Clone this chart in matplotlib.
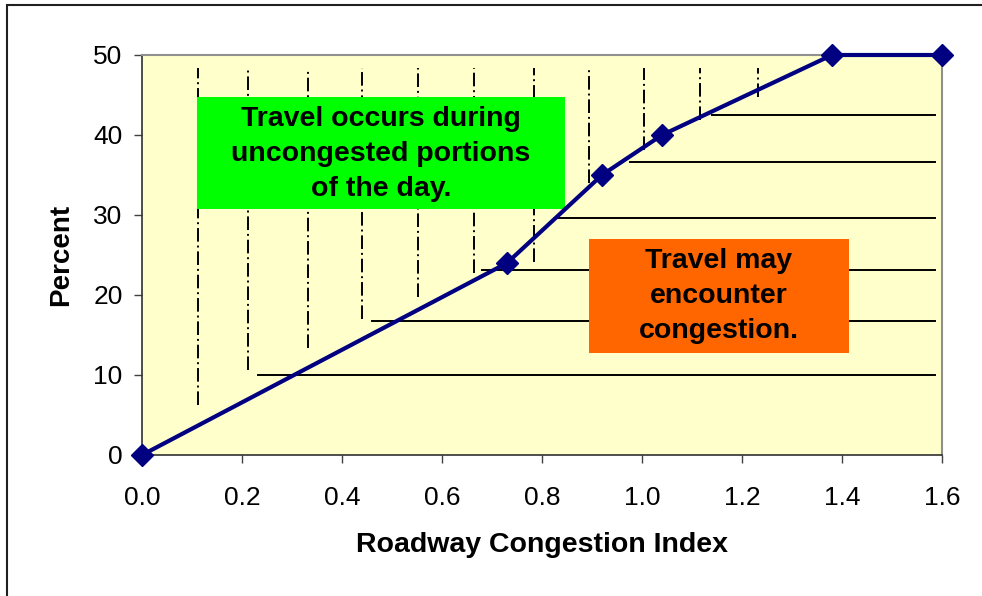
import matplotlib
matplotlib.use("Agg")
import matplotlib.pyplot as plt
from matplotlib.patches import Rectangle

# data
rci = [0.0, 0.73, 0.92, 1.04, 1.38, 1.60]
percent = [0, 24, 35, 40, 50, 50]

# horizontal reference lines (y, x start, x end)
h_y = [10.0, 16.75, 23.1, 29.6, 36.6, 42.5]
h_x0 = [0.232, 0.46, 0.68, 0.826, 0.976, 1.14]
h_x1 = [1.586, 1.586, 1.586, 1.586, 1.586, 1.586]

# vertical dash-dot lines (x, y bottom, y top)
v_x = [0.112, 0.212, 0.332, 0.44, 0.552, 0.664, 0.784, 0.894, 1.004, 1.116, 1.232]
v_y0 = [6.25, 10.6, 13.4, 17.0, 19.75, 22.75, 24.1, 34.0, 38.1, 41.9, 44.75]
v_y1 = [48.4] * 11

x_ticks = [0.0, 0.2, 0.4, 0.6, 0.8, 1.0, 1.2, 1.4, 1.6]
y_ticks = [0, 10, 20, 30, 40, 50]

green_text = "Travel occurs during\nuncongested portions\nof the day."
orange_text = "Travel may\nencounter\ncongestion."

plt.rcParams['font.family'] = ['Liberation Sans', 'DejaVu Sans']

fig = plt.figure(figsize=(9.82, 5.96), dpi=100)
ax = fig.add_axes([142/982, 1 - 455/596, 800/982, 400/596])
ax.set_facecolor('#FFFFCC')

# outer frame (only left and top visible in the reference)
fig.patches.append(Rectangle((7/982, -0.1), 1.2, 1 - 5/596 + 0.1, transform=fig.transFigure,
                             fill=False, edgecolor='#202020', linewidth=1.5, zorder=0))

for x, y0, y1 in zip(v_x, v_y0, v_y1):
    ax.plot([x, x], [y0, y1], color='black', linewidth=1.4,
            linestyle=(0, (7, 2, 1, 2)), zorder=2)

for y, x0, x1 in zip(h_y, h_x0, h_x1):
    ax.plot([x0, x1], [y, y], color='black', linewidth=1.4, zorder=2)

# annotation boxes
ax.add_patch(Rectangle((0.11, 30.75), 0.736, 14.0, facecolor='#00FF00', edgecolor='none', zorder=3))
ax.text(0.478, 37.6, green_text, ha='center', va='center', fontsize=20.5, fontweight='bold',
        linespacing=1.45, zorder=4)
ax.add_patch(Rectangle((0.894, 12.75), 0.52, 14.25, facecolor='#FF6600', edgecolor='none', zorder=3))
ax.text(1.154, 19.9, orange_text, ha='center', va='center', fontsize=20.5, fontweight='bold',
        linespacing=1.45, zorder=4)

ax.plot(rci, percent, color='#000080', linewidth=3, marker='D', markersize=11,
        clip_on=False, zorder=5)

ax.set_xlim(0, 1.6)
ax.set_ylim(0, 50)
ax.set_xticks(x_ticks)
ax.set_xticklabels([f"{t:.1f}" for t in x_ticks])
ax.set_yticks(y_ticks)
ax.tick_params(axis='both', labelsize=19, direction='out', length=6, width=1, color='#404040')
ax.tick_params(axis='x', pad=16)
ax.tick_params(axis='y', pad=8)

for side in ['left', 'bottom']:
    ax.spines[side].set_color('#303030')
    ax.spines[side].set_linewidth(1.2)
for side in ['top', 'right']:
    ax.spines[side].set_color('#909090')
    ax.spines[side].set_linewidth(1.5)

ax.set_xlabel('Roadway Congestion Index', fontsize=20.5, fontweight='bold', labelpad=16)
ax.set_ylabel('Percent', fontsize=20, fontweight='bold', labelpad=14)

fig.savefig('out.png', dpi=100)
